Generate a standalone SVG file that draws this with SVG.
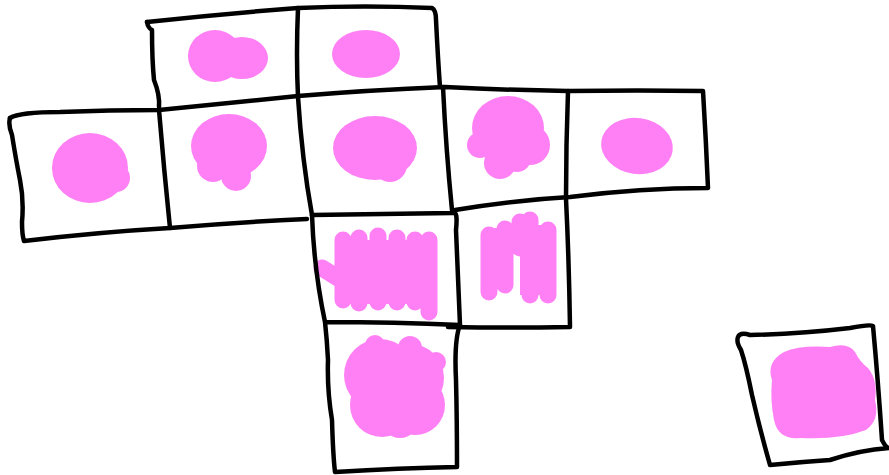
<svg xmlns="http://www.w3.org/2000/svg" width="889" height="475" viewBox="0 0 889 475">
<style>
.ln{fill:none;stroke:#000;stroke-width:4.5;stroke-linecap:round;stroke-linejoin:round}
.pk{fill:#ff80f5;stroke:none}
.sc{fill:none;stroke:#ff80f5;stroke-width:17;stroke-linecap:round;stroke-linejoin:round}
</style>
<rect width="889" height="475" fill="#fff"/>
<g id="blobs">
<g id="blobA" class="pk"><ellipse cx="215" cy="56" rx="27" ry="26"/><ellipse cx="242" cy="58" rx="26" ry="21"/></g>
<g id="blobB" class="pk"><ellipse cx="366" cy="54" rx="34" ry="24"/></g>
<g id="blobC" class="pk"><ellipse cx="90" cy="168" rx="38" ry="35"/><circle cx="116" cy="178" r="14"/></g>
<g id="blobD" class="pk"><ellipse cx="229" cy="146" rx="38" ry="32"/><circle cx="236" cy="176" r="15"/><circle cx="213" cy="166" r="16"/></g>
<g id="blobE" class="pk"><ellipse cx="375" cy="148" rx="42" ry="32"/><circle cx="390" cy="165" r="17"/></g>
<g id="blobF" class="pk"><ellipse cx="508" cy="128" rx="36" ry="32"/><circle cx="480" cy="145" r="13"/><circle cx="530" cy="145" r="20"/><circle cx="500" cy="163" r="16"/><circle cx="517" cy="158" r="14"/></g>
<g id="blobG" class="pk"><ellipse cx="637" cy="146" rx="36" ry="28" transform="rotate(8 637 146)"/></g>
<g id="blobH"><rect x="343" y="240" width="88" height="64" class="pk"/><path class="sc" d="M343 240V300M359 238V303M378 236V302M397 238V302M415 240V302M429 240V312M322 268L365 295"/></g>
<g id="blobI"><rect x="489" y="228" width="60" height="26" class="pk"/><rect x="520" y="225" width="30" height="70" class="pk"/><path class="sc" d="M489 235V292M505 229V285M520 222V248M530 220V295M548 230V295"/></g>
<g id="blobJ" class="pk"><circle cx="380" cy="375" r="36"/><circle cx="410" cy="378" r="34"/><circle cx="382" cy="405" r="32"/><circle cx="415" cy="405" r="30"/><circle cx="400" cy="420" r="18"/><circle cx="436" cy="362" r="10"/><circle cx="410" cy="348" r="12"/><circle cx="375" cy="345" r="10"/></g>
<g id="blobK" class="pk"><path d="M784 352Q800 345 830 347Q848 342 855 352Q860 362 868 368Q878 380 875 400Q880 420 866 430Q840 440 800 438Q778 440 774 420Q770 400 772 380Q766 362 784 352Z"/></g>
</g>
<g id="grid">
<path class="ln" d="M147 22Q148 28 152 30Q152 60 154 80Q160 95 159 107"/>
<path class="ln" d="M147 22Q220 14 298 8Q365 5 432 8Q436 10 436 20Q438 60 440 87"/>
<path class="ln" d="M298 8Q296 55 298 97"/>
<path class="ln" d="M10 118Q20 112 60 112Q110 110 159 110Q230 103 298 96Q370 90 445 87Q505 90 568 91Q640 90 703 91Q706 140 708 188Q640 188 570 197Q515 200 455 210"/>
<path class="ln" d="M10 118Q8 125 12 135Q16 160 20 180Q24 200 22 222Q22 235 24 241Q100 232 170 228Q240 222 307 219"/>
<path class="ln" d="M159 110Q164 170 170 228"/>
<path class="ln" d="M298 97Q302 160 312 215"/>
<path class="ln" d="M443 87Q446 150 452 210"/>
<path class="ln" d="M568 91Q566 145 566 199Q569 260 570 327Q510 328 448 327"/>
<path class="ln" d="M312 215Q380 214 453 213Q458 210 456 230Q458 280 460 325"/>
<path class="ln" d="M312 215Q314 270 325 322Q395 322 460 325Q454 340 456 380Q457 420 457 467Q400 468 335 472Q333 455 332 420Q327 390 328 360Q327 340 325 322"/>
<path class="ln" d="M738 337Q740 332 750 335Q800 334 850 328Q870 324 873 326Q878 380 882 440Q886 448 889 448M770 465Q760 430 752 395Q746 365 741 350Q736 342 738 337M770 465Q800 462 830 460Q860 450 889 448"/>
</g>
</svg>
